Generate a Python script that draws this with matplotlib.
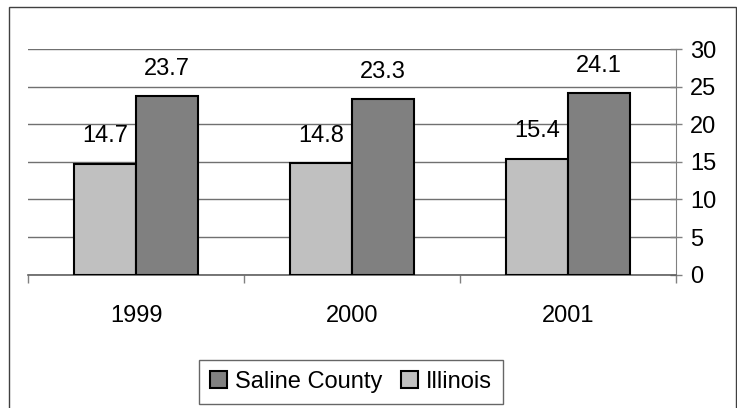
import matplotlib
matplotlib.use("Agg")
import matplotlib.pyplot as plt
import matplotlib.patches as mpatches
import numpy as np

plt.rcParams['font.family'] = ['Liberation Sans', 'DejaVu Sans']
plt.rcParams['font.size'] = 17

years = ["1999", "2000", "2001"]
illinois = [14.7, 14.8, 15.4]
saline = [23.7, 23.3, 24.1]

fig = plt.figure(figsize=(7.37, 4.08), dpi=100)
ax = fig.add_axes([28 / 737, 1 - 274.7 / 408, 648 / 737, 225.7 / 408])

x = np.arange(len(years))
w = 0.287
b_ill = ax.bar(x - w / 2, illinois, w, color="#C0C0C0", edgecolor="black",
               linewidth=1.5, label="Illinois", zorder=3)
b_sal = ax.bar(x + w / 2, saline, w, color="#808080", edgecolor="black",
               linewidth=1.5, label="Saline County", zorder=3)

# value labels above each bar
for bars, vals in [(b_ill, illinois), (b_sal, saline)]:
    for r, v in zip(bars, vals):
        ax.annotate(f"{v:.1f}", (r.get_x() + r.get_width() / 2, v),
                    xytext=(0, 20), textcoords="offset points",
                    ha="center", va="center", fontsize=17)

ax.set_xlim(-0.5, 2.5)
ax.set_ylim(0, 30)
ax.set_yticks(np.arange(0, 31, 5))
ax.yaxis.tick_right()
ax.grid(axis="y", color="#707070", linewidth=1, zorder=0)

# category boundaries as ticks, year labels at centers
ax.set_xticks([-0.5, 0.5, 1.5, 2.5])
ax.set_xticklabels([])
ax.set_xticks(x, minor=True)
ax.set_xticklabels(years, minor=True)
ax.tick_params(axis="x", which="major", direction="out", length=6,
               width=1, color="#808080")
ax.tick_params(axis="x", which="minor", length=0, pad=22)
ax.tick_params(axis="y", direction="inout", length=8, width=1,
               color="#808080", pad=6)

for s in ["left", "top"]:
    ax.spines[s].set_visible(False)
ax.spines["right"].set_color("#808080")
ax.spines["bottom"].set_color("#606060")
ax.spines["bottom"].set_linewidth(1.2)

leg = fig.legend([b_sal, b_ill], ["Saline County", "Illinois"], loc="center",
                 bbox_to_anchor=(351 / 737, 1 - 382 / 408), ncol=2,
                 frameon=True, fancybox=False, edgecolor="#404040",
                 handlelength=0.7, handleheight=0.7, handletextpad=0.35,
                 columnspacing=0.8, borderpad=0.45, borderaxespad=0,
                 fontsize=17)
leg.get_frame().set_linewidth(1)

# outer chart border
fig.patches.append(mpatches.Rectangle((8.5 / 737, -0.05), 727 / 737, 1.05 - 7 / 408,
                                      transform=fig.transFigure, fill=False,
                                      edgecolor="#404040", linewidth=1))

fig.savefig("out.png", dpi=100)
